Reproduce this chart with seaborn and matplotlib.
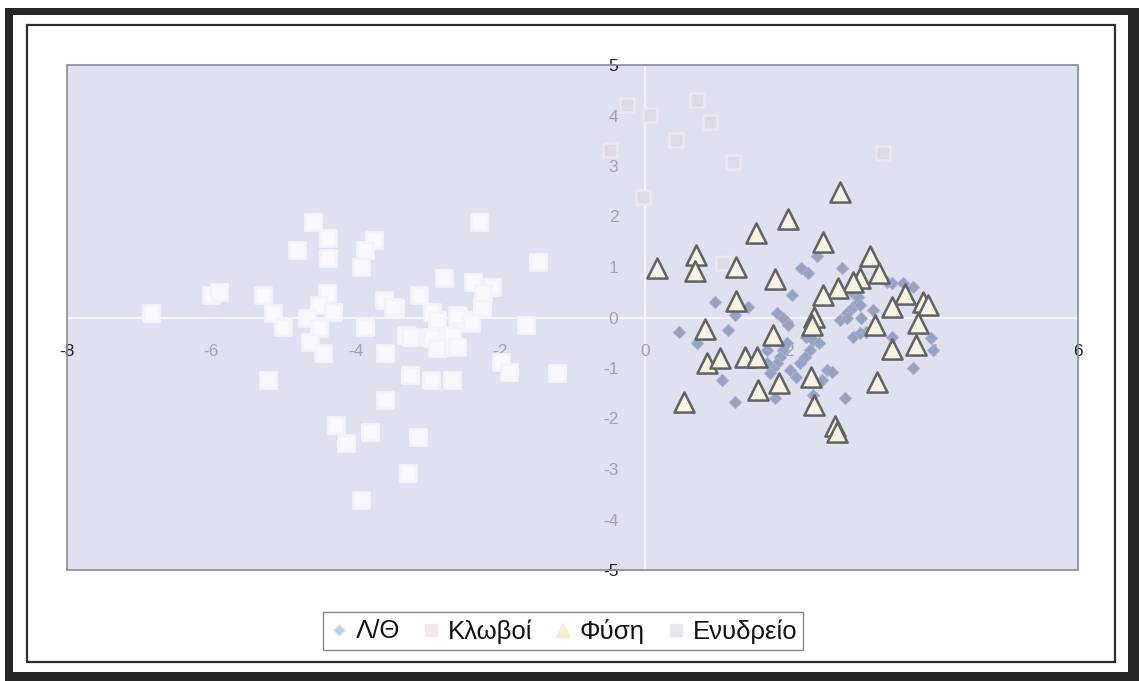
import matplotlib
matplotlib.use("Agg")
import matplotlib.pyplot as plt
import seaborn as sns
import pandas as pd
from matplotlib.patches import Rectangle
from matplotlib.lines import Line2D

# ---- data -------------------------------------------------------------
series_names = ["Λ/Θ", "Κλωβοί", "Φύση", "Ενυδρείο"]

# Λ/Θ
lt_x = [2.38, 2.73, 2.17, 2.26, 2.04, 1.43, 1.25, 1.83, 1.97, 0.48, 1.15, 0.72,
        1.07, 1.25, 1.80, 2.77, 3.71, 3.97, 3.99, 3.43, 2.80, 2.88, 2.70, 2.94,
        2.88, 2.98, 3.07, 3.43, 3.57, 3.71, 3.35, 2.88, 2.95, 2.98, 2.24, 2.33,
        2.42, 2.29, 2.22, 2.15, 2.52, 2.60, 1.97, 1.91, 1.87, 1.83, 1.77, 1.70,
        1.73, 2.01, 2.10, 2.45, 2.33, 1.91, 1.98, 3.16, 2.80, 3.00, 0.97, 1.69]
lt_y = [1.22, 0.98, 0.98, 0.88, 0.45, 0.21, 0.05, 0.09, -0.09, -0.29, -0.25, -0.51,
        -1.24, -1.67, -1.59, -1.59, -1.00, -0.41, -0.64, -0.39, 0.09, 0.21, -0.05, 0.29,
        -0.39, -0.31, -0.29, 0.68, 0.68, 0.60, 0.70, 0.49, 0.41, 0.25, -0.39, -0.45,
        -0.51, -0.64, -0.78, -0.90, -1.04, -1.08, -0.51, -0.64, -0.78, -0.90, -1.00, -0.90,
        -1.10, -1.04, -1.18, -1.24, -1.53, -0.01, -0.15, 0.15, -0.01, -0.01, 0.31, -0.64]

# Κλωβοί
kl_x = [-0.25, 0.07, 0.73, 0.90, 0.44, -0.48, 1.22, 3.30, -0.03, 1.08]
kl_y = [4.21, 4.01, 4.31, 3.87, 3.51, 3.32, 3.08, 3.26, 2.39, 1.08]

# Φύση
fy_x = [2.70, 1.99, 1.54, 2.47, 0.71, 0.69, 0.17, 1.27, 3.12, 3.24, 1.81, 2.98,
        2.88, 2.67, 2.47, 3.60, 3.85, 3.92, 3.42, 1.26, 2.35, 2.31, 3.19, 3.78,
        0.84, 1.77, 3.43, 3.75, 0.86, 1.04, 1.39, 1.55, 2.30, 1.86, 3.21, 1.57,
        0.55, 2.35, 2.63, 2.66]
fy_y = [2.49, 1.95, 1.67, 1.50, 1.24, 0.92, 0.98, 1.00, 1.22, 0.88, 0.76, 0.78,
        0.70, 0.58, 0.45, 0.47, 0.31, 0.25, 0.21, 0.33, 0.01, -0.15, -0.15, -0.11,
        -0.23, -0.35, -0.62, -0.55, -0.90, -0.80, -0.78, -0.78, -1.18, -1.30, -1.28, -1.44,
        -1.67, -1.73, -2.15, -2.27]

# Ενυδρείο
en_x = [-4.60, -2.30, -4.39, -4.81, -4.39, -3.75, -3.88, -3.93, -1.48, -6.01, -5.89, -6.84,
        -5.28, -5.15, -5.01, -4.40, -4.51, -4.31, -4.67, -4.51, -4.63, -4.46, -3.88, -3.59,
        -3.61, -3.46, -3.31, -3.12, -2.78, -2.94, -2.99, -2.73, -2.78, -2.59, -2.47, -2.38,
        -2.12, -2.26, -1.65, -1.99, -1.88, -1.22, -5.22, -3.25, -2.96, -2.67, -3.59, -4.28,
        -3.81, -4.14, -3.14, -3.28, -3.93, -2.24, -3.49, -2.60, -2.40, -2.88, -3.25, -2.95,
        -2.67, -2.60, -2.87]
en_y = [1.89, 1.89, 1.57, 1.34, 1.18, 1.53, 1.34, 1.00, 1.10, 0.45, 0.51, 0.09,
        0.45, 0.09, -0.19, 0.48, 0.25, 0.11, -0.01, -0.21, -0.49, -0.70, -0.19, -0.70,
        0.35, 0.19, -0.35, 0.45, 0.78, 0.11, -0.39, -0.35, -0.58, 0.01, -0.05, 0.70,
        0.60, 0.21, -0.15, -0.88, -1.08, -1.10, -1.24, -1.14, -1.24, -1.24, -1.63, -2.13,
        -2.27, -2.49, -2.37, -3.08, -3.61, 0.48, 0.21, 0.05, -0.11, -0.05, -0.39, -0.41,
        -0.35, -0.58, -0.60]

x_ticks = [-8, -6, -4, -2, 0, 2, 4, 6]
y_ticks = [-5, -4, -3, -2, -1, 0, 1, 2, 3, 4, 5]

# ---- figure -----------------------------------------------------------
sns.set_theme(style="white")
plt.rcParams["font.family"] = ["Liberation Sans", "DejaVu Sans"]
plt.rcParams["axes.unicode_minus"] = False

W, H = 1139, 681
fig = plt.figure(figsize=(W / 100, H / 100), dpi=100)
fig.patch.set_facecolor("white")


def fig_rect(x0, y0, x1, y1, **kw):
    """Rectangle given in pixel coordinates measured from the top-left corner."""
    fig.patches.append(Rectangle((x0 / W, 1 - y1 / H), (x1 - x0) / W, (y1 - y0) / H,
                                 transform=fig.transFigure, **kw))


# heavy outer frame and thin inner frame, kept beneath the axes
fig_rect(5, 8, W + 5, H + 5, facecolor="#262626", edgecolor="none", zorder=-3)
fig_rect(13, 15, 1128, 672, facecolor="white", edgecolor="none", zorder=-2)
fig_rect(27, 25, 1115, 662, facecolor="none", edgecolor="#2e2e2e", linewidth=1.6, zorder=-1)

ax = fig.add_axes([67 / W, 1 - 570 / H, (1078 - 67) / W, (570 - 65) / H])
ax.set_zorder(2)
ax.set_facecolor("#dfe0f0")
ax.set_xlim(-8, 6)
ax.set_ylim(-5, 5)

# axes crossing at the origin
for side in ("top", "right"):
    ax.spines[side].set_visible(False)
for side in ("left", "bottom"):
    ax.spines[side].set_position(("data", 0))
    ax.spines[side].set_color("#f3f3fa")
    ax.spines[side].set_linewidth(1.6)
    ax.spines[side].set_zorder(0.5)
ax.add_patch(Rectangle((0, 0), 1, 1, transform=ax.transAxes, fill=False,
                       edgecolor="#8a8a9a", linewidth=1.2, clip_on=False, zorder=6))

ax.set_xticks(x_ticks)
ax.set_xticklabels([str(t) for t in x_ticks])
ax.set_yticks(y_ticks)
ax.set_yticklabels([str(t) for t in y_ticks])
ax.tick_params(axis="x", length=0, pad=19, labelsize=12.5, labelcolor="#a2a2b0")
ax.tick_params(axis="y", length=0, pad=19, labelsize=12.5, labelcolor="#a2a2b0")
for lbl in ax.get_xticklabels():
    if lbl.get_text() in ("-8", "6"):
        lbl.set_color("#222222")
for lbl in ax.get_yticklabels():
    if lbl.get_text() in ("5", "-5"):
        lbl.set_color("#222222")

# ---- series -----------------------------------------------------------
lt = pd.DataFrame({"x": lt_x, "y": lt_y})
kl = pd.DataFrame({"x": kl_x, "y": kl_y})
fy = pd.DataFrame({"x": fy_x, "y": fy_y})
en = pd.DataFrame({"x": en_x, "y": en_y})

sns.scatterplot(data=en, x="x", y="y", ax=ax, marker="s", s=125,
                color="#f9f9fd", edgecolor="#f3f3f9", linewidth=2.0, legend=False, zorder=2)
sns.scatterplot(data=lt, x="x", y="y", ax=ax, marker="D", s=40,
                color="#97a1c3", edgecolor="#aab2cf", linewidth=0.6, legend=False, zorder=3)
sns.scatterplot(data=kl, x="x", y="y", ax=ax, marker="s", s=100,
                color="#dddaea", edgecolor="#ede7f1", linewidth=1.8, legend=False, zorder=3.2)
sns.scatterplot(data=fy, x="x", y="y", ax=ax, marker="^", s=210,
                color="#f6f4e2", edgecolor="#626262", linewidth=1.8, legend=False, zorder=4)
for coll in ax.collections:
    coll.set_joinstyle("round")
ax.set_xlabel("")
ax.set_ylabel("")

# ---- legend -----------------------------------------------------------
handles = [
    Line2D([], [], linestyle="none", marker="D", markersize=6, markerfacecolor="#c3cde2",
           markeredgecolor="#e6eaf3"),
    Line2D([], [], linestyle="none", marker="s", markersize=9, markerfacecolor="#f7e6ec",
           markeredgecolor="#f7e6ec"),
    Line2D([], [], linestyle="none", marker="^", markersize=10, markerfacecolor="#f3eecd",
           markeredgecolor="#f3eecd"),
    Line2D([], [], linestyle="none", marker="s", markersize=9, markerfacecolor="#e6e6ee",
           markeredgecolor="#e6e6ee"),
]
leg = fig.legend(handles, series_names, loc="center",
                 bbox_to_anchor=(563 / W, 1 - 631 / H), ncol=4, frameon=True,
                 fancybox=False, edgecolor="#6a6a6a", fontsize=18.5,
                 handlelength=0.8, handletextpad=0.25, columnspacing=0.8,
                 borderpad=0.25, borderaxespad=0)
leg.set_zorder(5)
leg.get_frame().set_linewidth(1.0)
for t in leg.get_texts():
    t.set_color("#111111")

fig.savefig("out.png", dpi=100, facecolor="white")
